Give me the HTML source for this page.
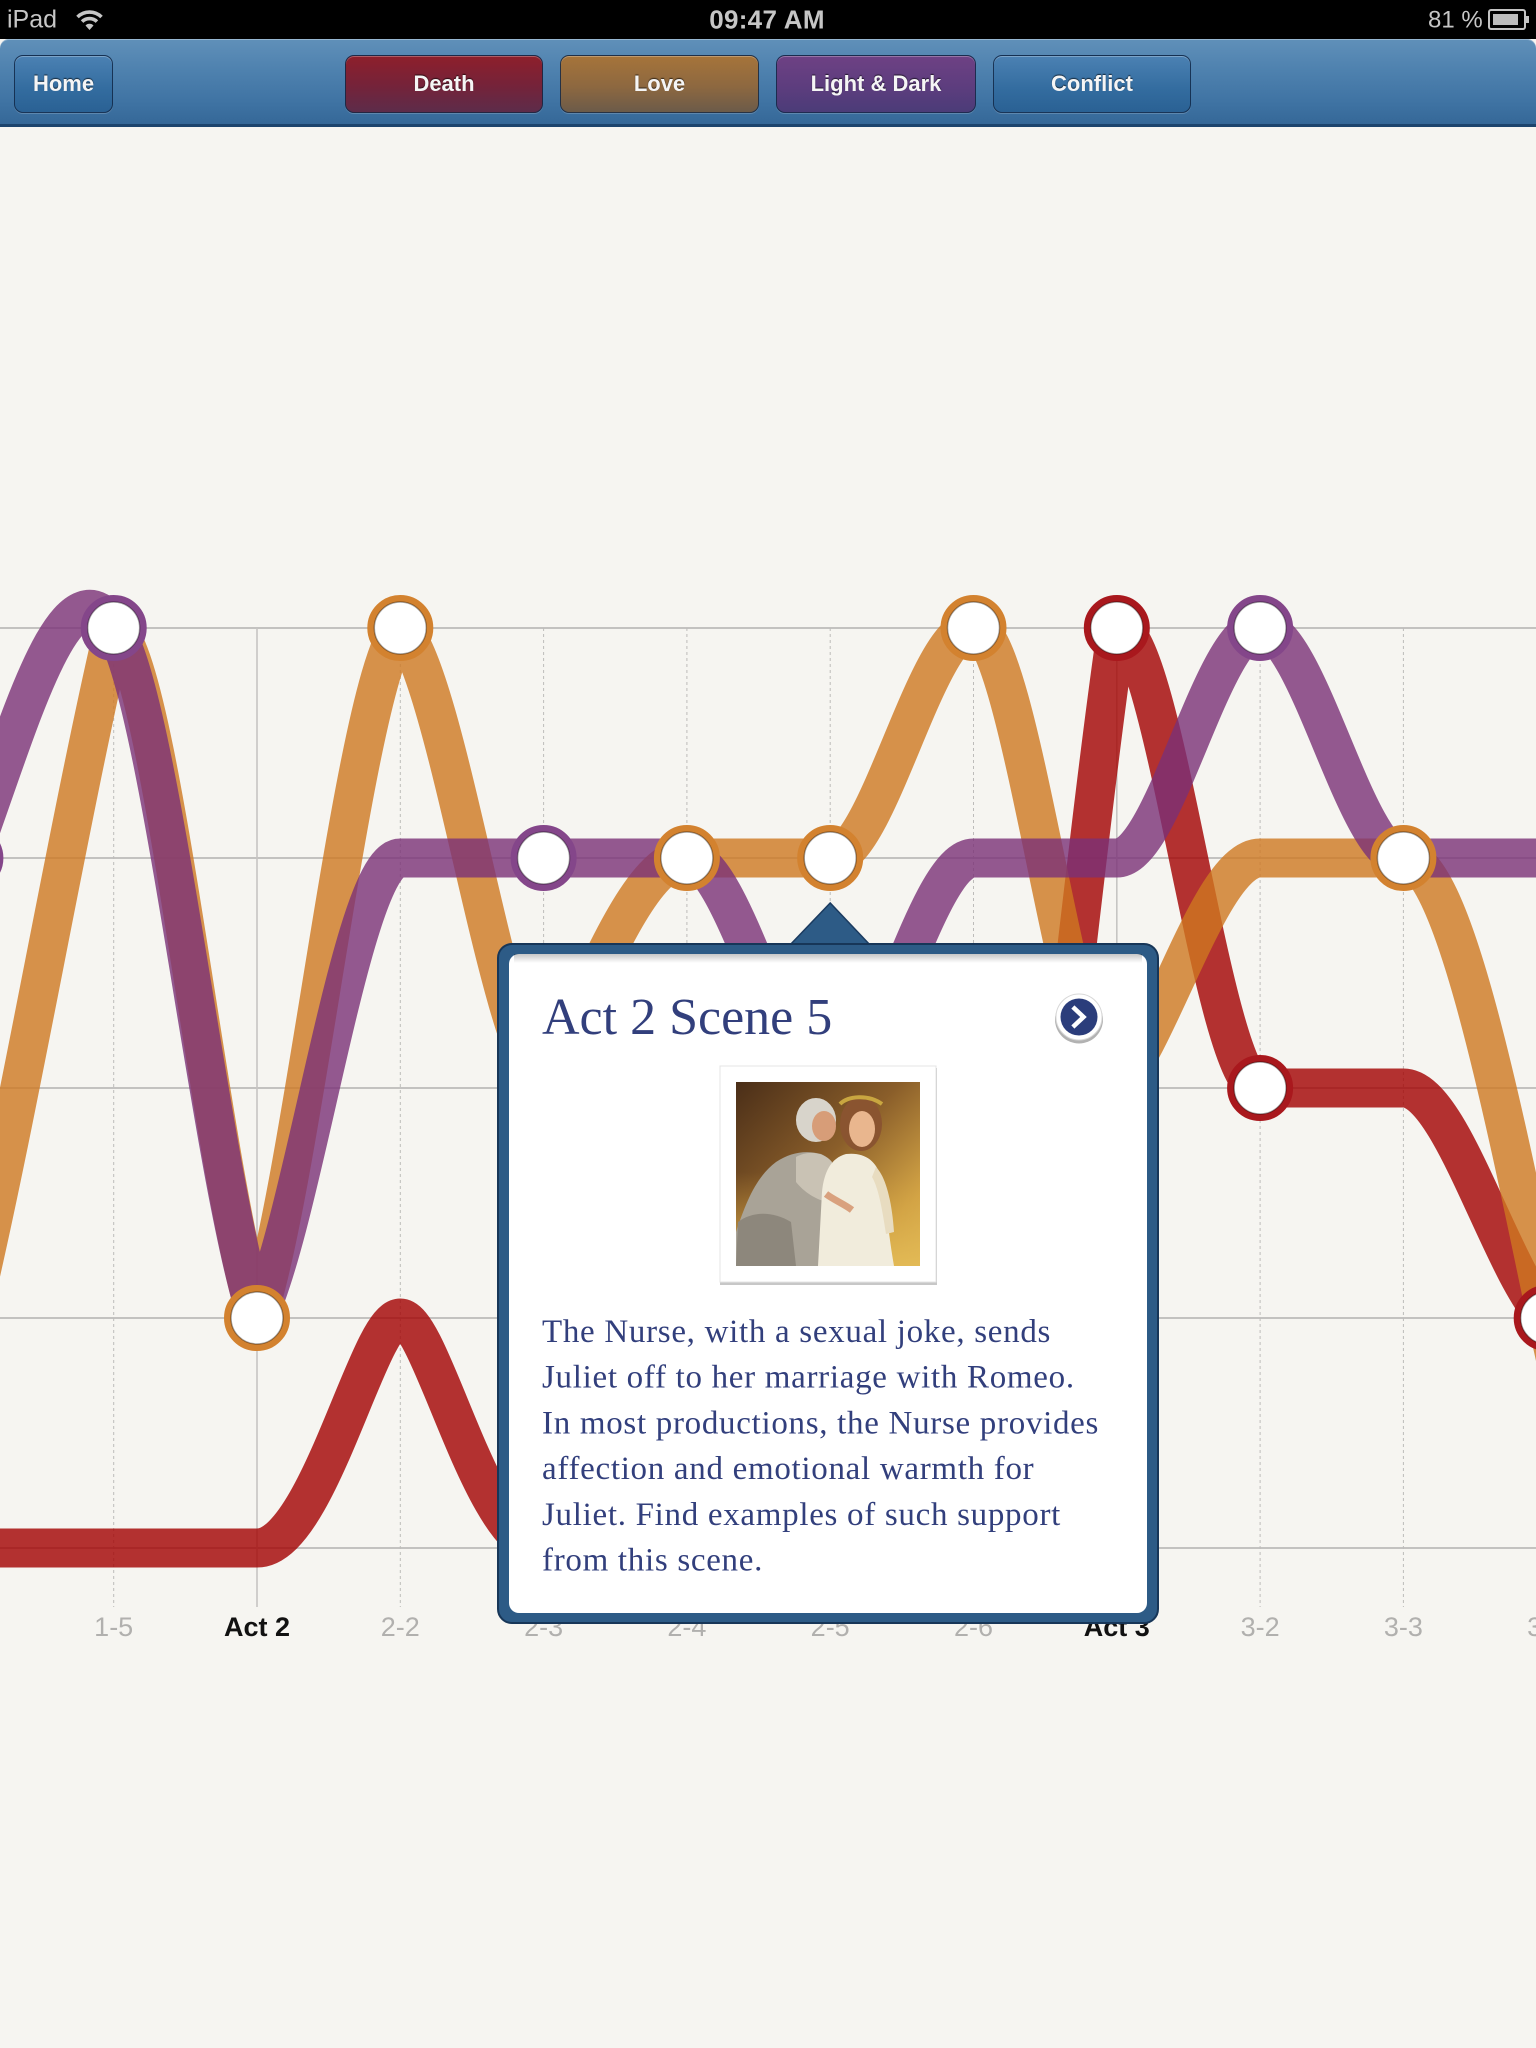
<!DOCTYPE html>
<html>
<head>
<meta charset="utf-8">
<style>
  html, body { margin:0; padding:0; }
  body { width:1536px; height:2048px; overflow:hidden; background:#f6f5f1; position:relative; font-family:"Liberation Sans", Arial, sans-serif; }
  #chart { position:absolute; left:0; top:0; }
  #status { position:absolute; left:0; top:0; width:1536px; height:39px; background:#000; }
  #toolbar { position:absolute; left:0; top:39px; width:1536px; height:88px; box-sizing:border-box;
    border-radius:9px 9px 0 0;
    background:linear-gradient(#6090b9 0%, #4f82af 35%, #3f73a3 75%, #356898 100%);
    border-bottom:3px solid #1c446d;
    box-shadow: inset 0 1px 0 rgba(255,255,255,0.35); }
  .btn { position:absolute; top:16px; height:58px; box-sizing:border-box; border-radius:9px;
    border:1.5px solid rgba(18,40,70,0.85);
    box-shadow: inset 0 1px 0 rgba(255,255,255,0.28), 0 1px 0 rgba(255,255,255,0.18);
    color:#f5f5f5; font-weight:bold; font-size:22px; text-align:center; line-height:55px;
    text-shadow:0 -1px 1px rgba(0,0,0,0.65); white-space:nowrap; }
  .blue { background:linear-gradient(#4b81b3, #336c9f 60%, #2a6194); }
  .death { background:linear-gradient(#8e1f2b, #74233a 55%, #5d2c4a); }
  .love { background:linear-gradient(#a6743a, #8d6840 55%, #6c5b49); }
  .ld { background:linear-gradient(#6e4184, #5d3d7e 55%, #4b3c78); }
</style>
</head>
<body>

<svg id="chart" width="1536" height="2048" viewBox="0 0 1536 2048" xmlns="http://www.w3.org/2000/svg">
  <defs>
    <linearGradient id="innerShade" x1="0" y1="0" x2="0" y2="1">
      <stop offset="0" stop-color="#000" stop-opacity="0.22"/>
      <stop offset="1" stop-color="#000" stop-opacity="0"/>
    </linearGradient>
    <linearGradient id="photoBg" x1="0" y1="0" x2="1" y2="1">
      <stop offset="0" stop-color="#4a2e18"/>
      <stop offset="0.45" stop-color="#8a5e2a"/>
      <stop offset="0.8" stop-color="#d3a445"/>
      <stop offset="1" stop-color="#e9c35a"/>
    </linearGradient>
    <linearGradient id="photoFloor" x1="0" y1="0" x2="0" y2="1">
      <stop offset="0" stop-color="#c8963c" stop-opacity="0"/>
      <stop offset="1" stop-color="#e2b955" stop-opacity="0.9"/>
    </linearGradient>
  </defs>

  <!-- horizontal grid -->
  <g stroke="#c3c2c0" stroke-width="2">
    <line x1="0" y1="628" x2="1536" y2="628"/>
    <line x1="0" y1="858" x2="1536" y2="858"/>
    <line x1="0" y1="1088" x2="1536" y2="1088"/>
    <line x1="0" y1="1318" x2="1536" y2="1318"/>
    <line x1="0" y1="1548" x2="1536" y2="1548"/>
  </g>
  <!-- vertical act lines -->
  <g stroke="#c6c5c3" stroke-width="1.6">
    <line x1="257" y1="628" x2="257" y2="1607"/>
    <line x1="1116.8" y1="628" x2="1116.8" y2="1607"/>
  </g>
  <!-- dotted scene lines -->
  <g stroke="#bdbcba" stroke-width="1" stroke-dasharray="3 3">
    <line x1="113.7" y1="628" x2="113.7" y2="1607"/>
    <line x1="400.3" y1="628" x2="400.3" y2="1607"/>
    <line x1="543.6" y1="628" x2="543.6" y2="1607"/>
    <line x1="686.9" y1="628" x2="686.9" y2="1607"/>
    <line x1="830.2" y1="628" x2="830.2" y2="1607"/>
    <line x1="973.5" y1="628" x2="973.5" y2="1607"/>
    <line x1="1260.1" y1="628" x2="1260.1" y2="1607"/>
    <line x1="1403.4" y1="628" x2="1403.4" y2="1607"/>
    <line x1="1546.7" y1="628" x2="1546.7" y2="1607"/>
  </g>

  <!-- axis labels -->
  <g font-family="Liberation Sans, Arial, sans-serif" font-size="27" text-anchor="middle" fill="#b1b0ae">
    <text x="113.7" y="1636">1-5</text>
    <text x="400.3" y="1636">2-2</text>
    <text x="543.6" y="1636">2-3</text>
    <text x="686.9" y="1636">2-4</text>
    <text x="830.2" y="1636">2-5</text>
    <text x="973.5" y="1636">2-6</text>
    <text x="1260.1" y="1636">3-2</text>
    <text x="1403.4" y="1636">3-3</text>
    <text x="1546.7" y="1636">3-4</text>
  </g>
  <g font-family="Liberation Sans, Arial, sans-serif" font-size="27" font-weight="bold" text-anchor="middle" fill="#111">
    <text x="257" y="1636">Act 2</text>
    <text x="1116.8" y="1636">Act 3</text>
  </g>

  <!-- series -->
  <g fill="none" stroke-width="39" stroke-linejoin="round" stroke-linecap="round" stroke-opacity="0.8">
    <!-- Death (red) -->
    <path stroke="#a20000" d="M -172.9 1548 L 257 1548
      C 318 1548 368 1318 400.3 1318
      C 432 1318 482 1548 543.6 1548
      L 973.5 1548
      C 1021.3 1548 1069 960 1116.8 628
      C 1164.6 628 1212.3 1088 1260.1 1088
      L 1403.4 1088
      C 1451.2 1088 1498.9 1266.3 1546.7 1318
      C 1594.5 1369.7 1642.2 1548 1690 1548"/>
    <!-- Love (orange) -->
    <path stroke="#ce7820" d="M -172.9 1548
      C -125.1 1548 -77.4 1518 -29.6 1318
      C 18.2 1118 65.9 834.7 113.7 628
      C 161.5 661.3 209.2 1168 257 1318
      C 304.8 1168 352.5 694.7 400.3 628
      C 448.1 678 495.8 1038 543.6 1088
      C 591.4 988 639.1 858 686.9 858
      C 734.7 858 782.4 858 830.2 858
      C 878 858 925.7 628 973.5 628
      C 1021.3 628 1069 1088 1116.8 1088
      C 1164.6 1029.7 1212.3 858 1260.1 858
      C 1307.9 858 1355.6 858 1403.4 858
      C 1451.2 858 1498.9 1088 1546.7 1318
      C 1594.5 1548 1642.2 1640 1690 1640"/>
    <!-- Light & Dark (purple) -->
    <path stroke="#7a3177" d="M -172.9 1088
      C -125.1 1088 -77.4 988 -29.6 858
      C 18.2 728 65.9 551.3 113.7 628
      C 161.5 704.7 209.2 1168 257 1318
      C 304.8 1218 352.5 858 400.3 858
      C 448.1 858 495.8 858 543.6 858
      C 591.4 858 639.1 858 686.9 858
      C 734.7 858 782.4 1088 830.2 1088
      C 878 1088 925.7 858 973.5 858
      C 1021.3 858 1069 858 1116.8 858
      C 1164.6 858 1212.3 628 1260.1 628
      C 1307.9 628 1355.6 858 1403.4 858
      L 1690 858"/>
  </g>

  <!-- nodes -->
  <g fill="#ffffff" stroke-width="7">
    <circle cx="-29.6" cy="858" r="29.5" stroke="#84468a"/>
    <circle cx="113.7" cy="628" r="29.5" stroke="#84468a"/>
    <circle cx="257" cy="1318" r="29.5" stroke="#d3822f"/>
    <circle cx="400.3" cy="628" r="29.5" stroke="#d3822f"/>
    <circle cx="543.6" cy="858" r="29.5" stroke="#84468a"/>
    <circle cx="686.9" cy="858" r="29.5" stroke="#d3822f"/>
    <circle cx="830.2" cy="858" r="29.5" stroke="#d3822f"/>
    <circle cx="973.5" cy="628" r="29.5" stroke="#d3822f"/>
    <circle cx="1116.8" cy="628" r="29.5" stroke="#a9181d"/>
    <circle cx="1260.1" cy="628" r="29.5" stroke="#84468a"/>
    <circle cx="1260.1" cy="1088" r="29.5" stroke="#a9181d"/>
    <circle cx="1403.4" cy="858" r="29.5" stroke="#d3822f"/>
    <circle cx="1546.7" cy="1318" r="29.5" stroke="#a9181d"/>
  </g>
  <g fill="none" stroke-width="1.5" stroke-opacity="0.35" stroke="#000">
    <circle cx="113.7" cy="628" r="26"/>
    <circle cx="257" cy="1318" r="26"/>
    <circle cx="400.3" cy="628" r="26"/>
    <circle cx="543.6" cy="858" r="26"/>
    <circle cx="686.9" cy="858" r="26"/>
    <circle cx="830.2" cy="858" r="26"/>
    <circle cx="973.5" cy="628" r="26"/>
    <circle cx="1116.8" cy="628" r="26"/>
    <circle cx="1260.1" cy="628" r="26"/>
    <circle cx="1260.1" cy="1088" r="26"/>
    <circle cx="1403.4" cy="858" r="26"/>
    <circle cx="1546.7" cy="1318" r="26"/>
  </g>

  <!-- popup -->
  <polygon points="789,946 830.2,903 871,946" fill="#2d5b86" stroke="#1b3b60" stroke-width="1.5"/>
  <rect x="498" y="944" width="660" height="679" rx="14" ry="14" fill="#2d5b86" stroke="#173658" stroke-width="2"/>
  <rect x="509" y="954" width="638" height="659" rx="10" ry="10" fill="#ffffff"/>
  <rect x="514" y="954" width="628" height="9" fill="url(#innerShade)"/>

  <text x="542" y="1034" font-family="Liberation Serif, serif" font-size="52" fill="#323f7c">Act 2 Scene 5</text>

  <!-- next button -->
  <circle cx="1079" cy="1019.5" r="24" fill="#000" fill-opacity="0.3"/>
  <circle cx="1079" cy="1017" r="23" fill="#ffffff" stroke="#d8d8d8" stroke-width="1"/>
  <circle cx="1079" cy="1017" r="18.5" fill="#2b3d7b"/>
  <path d="M 1074.5 1008.5 L 1083.5 1017 L 1074.5 1025.5" fill="none" stroke="#ffffff" stroke-width="4.5" stroke-linecap="square"/>

  <!-- photo frame -->
  <rect x="720" y="1068" width="217" height="217" fill="#000" fill-opacity="0.22"/>
  <rect x="720" y="1066" width="216" height="216" fill="#ffffff" stroke="#e4e4e4" stroke-width="1"/>
  <svg x="736" y="1082" width="184" height="184" viewBox="0 0 184 184">
    <rect width="184" height="184" fill="url(#photoBg)"/>
    <rect y="90" width="184" height="94" fill="url(#photoFloor)"/>
    <!-- nurse -->
    <path d="M 0 184 L 0 150 C 10 120 20 95 40 80 C 55 70 70 68 85 72 C 100 78 108 100 105 130 L 100 184 Z" fill="#a9a397"/>
    <path d="M 0 184 L 2 140 C 15 130 35 128 55 140 L 60 184 Z" fill="#8d877c"/>
    <path d="M 60 75 C 72 68 88 70 96 80 L 92 120 C 80 118 68 110 60 100 Z" fill="#c9c2b4"/>
    <ellipse cx="80" cy="38" rx="20" ry="22" fill="#d8d4cb"/>
    <ellipse cx="88" cy="44" rx="12" ry="15" fill="#d79d78"/>
    <!-- juliet -->
    <path d="M 82 184 L 86 110 C 88 90 95 76 110 72 C 128 70 140 78 145 95 C 150 120 152 150 158 184 Z" fill="#f1ecdc"/>
    <path d="M 140 85 C 150 95 156 120 158 150 L 150 152 C 146 125 142 105 136 95 Z" fill="#e8dcc0"/>
    <ellipse cx="125" cy="42" rx="21" ry="27" fill="#8a5430"/>
    <ellipse cx="126" cy="47" rx="13" ry="18" fill="#e9b68e"/>
    <path d="M 104 22 C 112 14 132 12 146 22" stroke="#c9a640" stroke-width="4" fill="none"/>
    <path d="M 90 112 C 98 118 108 122 116 128" stroke="#d9a17e" stroke-width="7" fill="none"/>
  </svg>

  <!-- body text -->
  <g font-family="Liberation Serif, serif" font-size="33" fill="#323f7c" style="letter-spacing:0.7px">
    <text x="542" y="1342">The Nurse, with a sexual joke, sends</text>
    <text x="542" y="1387.7">Juliet off to her marriage with Romeo.</text>
    <text x="542" y="1433.4">In most productions, the Nurse provides</text>
    <text x="542" y="1479.1">affection and emotional warmth for</text>
    <text x="542" y="1524.8">Juliet. Find examples of such support</text>
    <text x="542" y="1570.5">from this scene.</text>
  </g>
</svg>

<!-- status bar -->
<div id="status">
  <svg width="1536" height="39" viewBox="0 0 1536 39" xmlns="http://www.w3.org/2000/svg">
    <g font-family="Liberation Sans, Arial, sans-serif" fill="#c6c6c6">
      <text x="7" y="27.3" font-size="25">iPad</text>
      <text x="767" y="28.6" font-size="26" font-weight="bold" text-anchor="middle" style="letter-spacing:0.3px">09:47 AM</text>
      <text x="1428" y="27.3" font-size="24">81 %</text>
    </g>
    <g fill="none" stroke="#c6c6c6" stroke-width="3.6">
      <path d="M 77.5 17 A 17 17 0 0 1 101.5 17"/>
      <path d="M 82.1 21.6 A 10.5 10.5 0 0 1 96.9 21.6"/>
    </g>
    <path d="M 85.5 25.5 L 89.5 30 L 93.5 25.5 A 5.5 5.5 0 0 0 85.5 25.5 Z" fill="#c6c6c6"/>
    <rect x="1489" y="10" width="36" height="19" rx="2" fill="none" stroke="#c4c4c4" stroke-width="2"/>
    <rect x="1493" y="14" width="25" height="11" fill="#bdbdbd"/>
    <rect x="1526" y="16" width="3" height="7" fill="#c4c4c4"/>
  </svg>
</div>

<!-- toolbar -->
<div id="toolbar">
  <div class="btn blue" style="left:14px; width:99px;">Home</div>
  <div class="btn death" style="left:345px; width:198px;">Death</div>
  <div class="btn love" style="left:560px; width:199px;">Love</div>
  <div class="btn ld" style="left:776px; width:200px;">Light &amp; Dark</div>
  <div class="btn blue" style="left:993px; width:198px;">Conflict</div>
</div>

</body>
</html>
